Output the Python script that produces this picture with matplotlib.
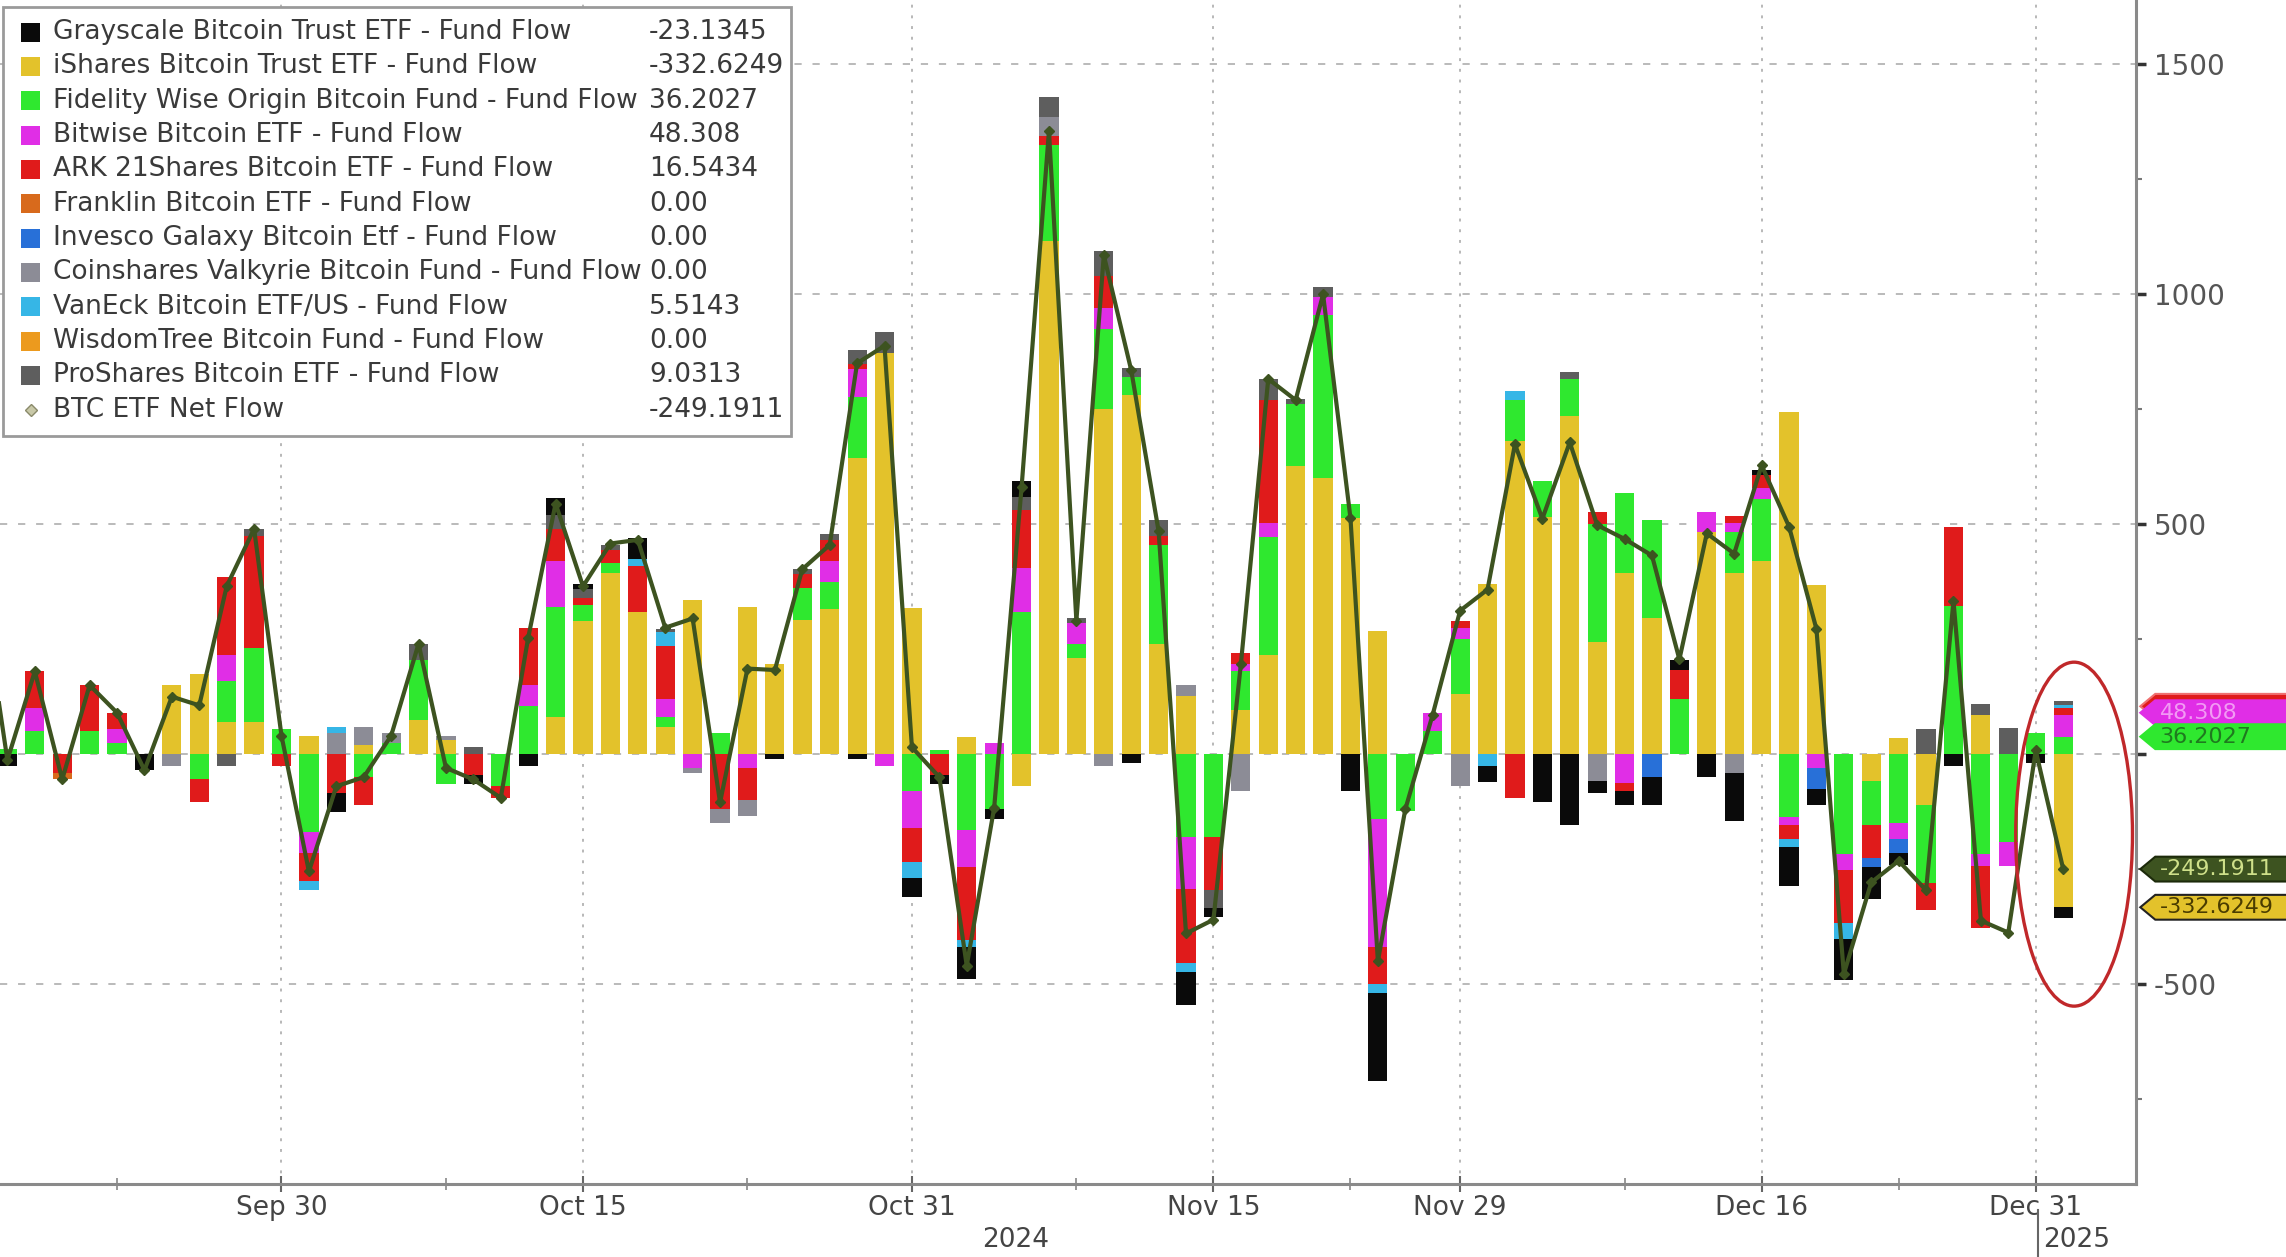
import numpy as np
import pandas as pd
import matplotlib
matplotlib.use("Agg")
import matplotlib.pyplot as plt
from matplotlib.patches import Rectangle, Ellipse, Polygon
from matplotlib.transforms import blended_transform_factory

plt.rcParams['font.family'] = ['Liberation Sans Narrow', 'DejaVu Sans']

days = pd.bdate_range("2024-09-13", "2025-01-02")
days = [d for d in days if d.strftime("%Y-%m-%d") not in ("2024-11-28", "2024-12-25", "2025-01-01")]

ishares = [250, 0, 0, 0, 0, 0, 0, 150, 175, 70,
           70, 0, 40, 0, 20, 0, 75, 30, 0, 0,
           0, 80, 289, 395, 310, 60, 335, 0, 320, 195,
           292, 315, 643, 872, 318, 0, 38, 0, -70, 1115,
           210, 750, 780, 240, 126, 0, 95, 216, 626, 600,
           513, 268, 0, 0, 130, 370, 680, 515, 735, 243,
           394, 297, 0, 483, 394, 421, 744, 367, 0, -58,
           35, -110, 0, 85, 0, 0, -332.6249]
fidelity = [100, 12, 50, 0, 50, 25, 0, 0, -55, 90,
            160, 55, -170, 0, -50, 25, 130, -65, 0, -70,
            105, 240, 35, 20, 0, 20, 0, 45, 0, 0,
            70, 60, 134, 0, -80, 10, -165, -120, 310, 210,
            30, 175, 40, 215, -180, -180, 85, 256, 135, 355,
            30, -140, -123, 50, 120, 0, 90, 80, 80, 257,
            173, 213, 120, 0, 89, 133, -137, 0, -217, -97,
            -150, -170, 323, -217, -190, 45, 36.2027]
bitwise = [40, 0, 50, 0, 0, 30, 0, 0, 0, 55,
           0, 0, -45, 0, 0, 0, 0, 0, 0, 0,
           45, 100, 0, 0, 0, 40, -30, 0, -30, 0,
           0, 45, 60, -25, -80, 0, -80, 25, 95, 0,
           45, 45, 0, 0, -114, 0, 15, 30, 0, 40,
           0, -280, 0, 40, 25, 0, 0, 0, 0, 0,
           -62, 0, 0, 44, 20, 25, -18, -30, -35, 0,
           -35, 0, 0, -27, -53, 0, 48.308]
ark = [0, 0, 80, -40, 100, 35, 0, 0, -50, 170,
       245, -25, -60, -85, -60, 0, 0, 0, -45, -25,
       125, 70, 15, 30, 100, 115, 0, -120, -70, 0,
       30, 45, 12, 0, -75, -45, -160, 0, 125, 20,
       0, 70, 0, 20, -160, -115, 25, 268, 0, 0,
       0, -80, 0, 0, 15, 0, -95, 0, 0, 27,
       -18, 0, 62, 0, 15, 28, -30, 0, -115, -71,
       0, -60, 172, -133, 0, 0, 16.5434]
franklin = [0, 0, 0, -15, 0, 0, 0, 0, 0, 0,
            0, 0, 0, 0, 0, 0, 0, 0, 0, 0,
            0, 0, 0, 0, 0, 0, 0, 0, 0, 0,
            0, 0, 0, 0, 0, 0, 0, 0, 0, 0,
            0, 0, 0, 0, 0, 0, 0, 0, 0, 0,
            0, 0, 0, 0, 0, 0, 0, 0, 0, 0,
            0, 0, 0, 0, 0, 0, 0, 0, 0, 0,
            0, 0, 0, 0, 0, 0, 0]
invesco = [0, 0, 0, 0, 0, 0, 0, 0, 0, 0,
           0, 0, 0, 0, 0, 0, 0, 0, 0, 0,
           0, 0, 0, 0, 0, 0, 0, 0, 0, 0,
           0, 0, 0, 0, 0, 0, 0, 0, 0, 0,
           0, 0, 0, 0, 0, 0, 0, 0, 0, 0,
           0, 0, 0, 0, 0, 0, 0, 0, 0, 0,
           0, -49, 0, 0, 0, 0, 0, -45, 0, -20,
           -30, 0, 0, 0, 0, 0, 0]
coinshares = [0, 0, 0, 0, 0, 0, 0, -25, 0, 0,
              0, 0, 0, 45, 40, 20, 0, 10, 0, 0,
              0, 0, 0, 0, 0, 0, -10, -30, -35, 0,
              0, 0, 0, 0, 0, 0, 0, 0, 0, 40,
              0, -25, 0, 0, 25, 0, -80, 0, 0, 0,
              0, 0, 0, 0, -70, 0, 0, 0, 0, -58,
              0, 0, 0, 0, -40, 0, 0, 0, 0, 0,
              0, 0, 0, 0, 0, 0, 0]
vaneck = [0, 0, 0, 0, 0, 0, 0, 0, 0, 0,
          0, 0, -20, 15, 0, 0, 0, 0, 0, 0,
          0, 0, 0, 0, 15, 30, 0, 0, 0, 0,
          0, 0, 0, 0, -35, 0, -15, 0, 0, 0,
          0, 0, 0, 0, -20, 0, 0, 0, 0, 0,
          0, -20, 0, 0, 0, -25, 20, 0, 0, 0,
          0, 0, 0, 0, 0, 0, -18, 0, -35, 0,
          0, 0, 0, 0, 0, 0, 5.5143]
wisdomtree = [0] * 77
proshares = [0, 0, 0, 0, 0, 0, 0, 0, 0, -25,
             15, 0, 0, 0, 0, 0, 35, 0, 15, 0,
             0, 30, 20, 10, 0, 8, 0, 0, 0, 0,
             10, 14, 30, 45, 0, 0, 0, 0, 30, 45,
             10, 55, 20, 35, 0, -40, 0, 45, 12, 20,
             0, 0, 0, 0, 0, 0, 0, 0, 15, 0,
             0, 0, 0, 0, 0, 0, 0, 0, 0, 0,
             0, 55, 0, 25, 57, 0, 9.0313]
grayscale = [0, -25, 0, 0, 0, 0, -35, 0, 0, 0,
             0, 0, 0, -40, 0, 0, 0, 0, -20, 0,
             -25, 38, 12, 0, 45, 0, 0, 0, 0, -10,
             0, 0, -10, 0, -40, -20, -70, -22, 35, 0,
             0, 0, -20, 0, -72, -20, 0, 0, 0, 0,
             -80, -190, 0, 0, 0, -35, 0, -105, -155, -27,
             -31, -62, 22, -49, -106, 10, -84, -35, -90, -70,
             -25, 0, -25, 0, 0, -20, -23.1345]
net_flow = [390, -13, 180, -55, 150, 90, -35, 125, 106, 365,
            490, 40, -255, -70, -50, 40, 240, -30, -55, -95,
            253, 545, 365, 458, 466, 275, 295, -105, 186, 183,
            402, 455, 850, 888, 15, -50, -460, -117, 580, 1355,
            290, 1085, 835, 485, -390, -360, 195, 816, 770, 1000,
            513, -450, -120, 86, 312, 358, 674, 512, 678, 498,
            468, 432, 206, 480, 436, 628, 495, 272, -478, -279,
            -232, -296, 333, -362, -388, 8, -249.1911]

fund_names = ["Grayscale Bitcoin Trust ETF - Fund Flow",
              "iShares Bitcoin Trust ETF - Fund Flow",
              "Fidelity Wise Origin Bitcoin Fund - Fund Flow",
              "Bitwise Bitcoin ETF - Fund Flow",
              "ARK 21Shares Bitcoin ETF - Fund Flow",
              "Franklin Bitcoin ETF - Fund Flow",
              "Invesco Galaxy Bitcoin Etf - Fund Flow",
              "Coinshares Valkyrie Bitcoin Fund - Fund Flow",
              "VanEck Bitcoin ETF/US - Fund Flow",
              "WisdomTree Bitcoin Fund - Fund Flow",
              "ProShares Bitcoin ETF - Fund Flow"]
last_values = ["-23.1345", "-332.6249", "36.2027", "48.308", "16.5434", "0.00",
               "0.00", "0.00", "5.5143", "0.00", "9.0313"]
net_label = "BTC ETF Net Flow"
net_last = "-249.1911"

tick_days = ["2024-09-30", "2024-10-15", "2024-10-31", "2024-11-15", "2024-11-29", "2024-12-16", "2024-12-31"]
tick_labels = ["Sep 30", "Oct 15", "Oct 31", "Nov 15", "Nov 29", "Dec 16", "Dec 31"]
minor_days = ["2024-09-20", "2024-10-08", "2024-10-23", "2024-11-08", "2024-11-22", "2024-12-09", "2024-12-23"]

colors = ['#0a0a0a', '#e3c22b', '#2fe82f', '#e02ee6', '#e01b1b', '#d86a1c',
          '#2870d8', '#8c8c96', '#36b6e6', '#ec9a1e', '#5e5e5e']
series = [grayscale, ishares, fidelity, bitwise, ark, franklin, invesco,
          coinshares, vaneck, wisdomtree, proshares]
line_color = '#3d5320'

day_str = [d.strftime("%Y-%m-%d") for d in days]
x = np.arange(len(days))

fig = plt.figure(figsize=(22.86, 12.57), dpi=100)
ax = fig.add_axes([0, 0.058, 0.9344, 0.942])

# stacking goes ishares first, grayscale last (outermost)
order = [1, 2, 3, 4, 5, 6, 7, 8, 9, 10, 0]
pos_b = np.zeros(len(x))
neg_b = np.zeros(len(x))
for k in order:
    v = np.array(series[k], dtype=float)
    p = np.where(v > 0, v, 0)
    n = np.where(v < 0, v, 0)
    ax.bar(x, p, 0.7, bottom=pos_b, color=colors[k], linewidth=0, zorder=2)
    ax.bar(x, n, 0.7, bottom=neg_b, color=colors[k], linewidth=0, zorder=2)
    pos_b += p
    neg_b += n

ax.plot(x, net_flow, color=line_color, lw=3, marker='D', ms=5, zorder=4)

ax.set_xlim(0.73, 78.66)
ax.set_ylim(-935, 1640)

for yv in [-500, 0, 500, 1000, 1500]:
    ax.axhline(yv, color='#b4b4b4', lw=1.3, ls=(0, (4, 6)), zorder=0)
major_pos = [day_str.index(d) for d in tick_days]
for xp in major_pos:
    ax.axvline(xp, color='#b8b8b8', lw=1.4, ls=(0, (1.5, 4)), zorder=0)

for s in ['top', 'left']:
    ax.spines[s].set_visible(False)
for s in ['right', 'bottom']:
    ax.spines[s].set_color('#8a8a8a')
    ax.spines[s].set_linewidth(2.2)

ax.yaxis.tick_right()
ax.set_yticks([-500, 0, 500, 1000, 1500])
ax.set_yticklabels(['-500', '', '500', '1000', '1500'])
ax.set_yticks([-750, -250, 250, 750, 1250], minor=True)
ax.tick_params(axis='y', which='major', direction='out', length=7, width=2.5,
               color='#333333', labelsize=20, labelcolor='#555555', pad=6)
ax.tick_params(axis='y', which='minor', direction='out', length=4, width=1.5, color='#777777')

ax.set_xticks(major_pos)
ax.set_xticklabels(tick_labels)
ax.set_xticks([day_str.index(d) for d in minor_days], minor=True)
ax.tick_params(axis='x', which='major', direction='inout', length=12, width=1.5,
               color='#666666', labelsize=19, labelcolor='#444444', pad=2)
ax.tick_params(axis='x', which='minor', direction='inout', length=8, width=1.2, color='#888888')

xt = ax.get_xaxis_transform()
ax.text(37.8, -0.047, "2024", transform=xt, ha='center', va='center', fontsize=19, color='#444444')
ax.text(76.5, -0.047, "2025", transform=xt, ha='center', va='center', fontsize=19, color='#444444')
ax.plot([75.1, 75.1], [-0.022, -0.07], transform=xt, color='#666666', lw=1.5, clip_on=False)

# legend box
ax.add_patch(Rectangle((0.0015, 0.632), 0.369, 0.362, transform=ax.transAxes,
                       facecolor='white', edgecolor='#9a9a9a', lw=2, zorder=6))
for k in range(11):
    yy = 1 - (22 + 23.55 * k) / 812
    ax.add_patch(Rectangle((0.0096, yy - 0.008), 0.0089, 0.016, transform=ax.transAxes,
                           facecolor=colors[k], edgecolor='none', zorder=7))
    ax.text(0.0246, yy, fund_names[k], transform=ax.transAxes, va='center', ha='left',
            fontsize=19, color='#3a3a3a', zorder=7)
    ax.text(0.3038, yy, last_values[k], transform=ax.transAxes, va='center', ha='left',
            fontsize=19, color='#3a3a3a', zorder=7)
yy = 1 - (22 + 23.55 * 11) / 812
ax.plot([0.0143], [yy], transform=ax.transAxes, marker='D', ms=6, mfc='#c8c8a8',
        mec='#8a8a6a', ls='none', zorder=7)
ax.text(0.0246, yy, net_label, transform=ax.transAxes, va='center', ha='left',
        fontsize=19, color='#3a3a3a', zorder=7)
ax.text(0.3038, yy, net_last, transform=ax.transAxes, va='center', ha='left',
        fontsize=19, color='#3a3a3a', zorder=7)

# right side value tags, arrow shaped, running off the right edge
tr = blended_transform_factory(ax.transAxes, ax.transData)
tags = [(104, None, '#e01b1b', '#ff9090', '#f07070'),
        (90, last_values[3], '#e02ee6', '#f29af4', '#e02ee6'),
        (38, last_values[2], '#2fe82f', '#1f7a1f', '#2fe82f'),
        (-250, net_last, '#3d5320', '#cfe08a', '#1c2a0a'),
        (-333, last_values[1], '#e3c22b', '#4a3c00', '#222222')]
h = 27
for yv, txt, fc, tc, ec in tags:
    pts = [(1.002, yv), (1.009, yv + h), (1.09, yv + h), (1.09, yv - h), (1.009, yv - h)]
    ax.add_patch(Polygon(pts, closed=True, transform=tr, fc=fc, ec=ec, lw=1.5,
                         zorder=8, clip_on=False))
    if txt:
        ax.text(1.011, yv, txt, transform=tr, va='center', ha='left', fontsize=16,
                color=tc, zorder=9, clip_on=False)

ax.add_patch(Ellipse((76.4, -174), 4.26, 748, fill=False, ec='#c0282a', lw=2.4, zorder=6))

fig.savefig("out.png", dpi=100)
